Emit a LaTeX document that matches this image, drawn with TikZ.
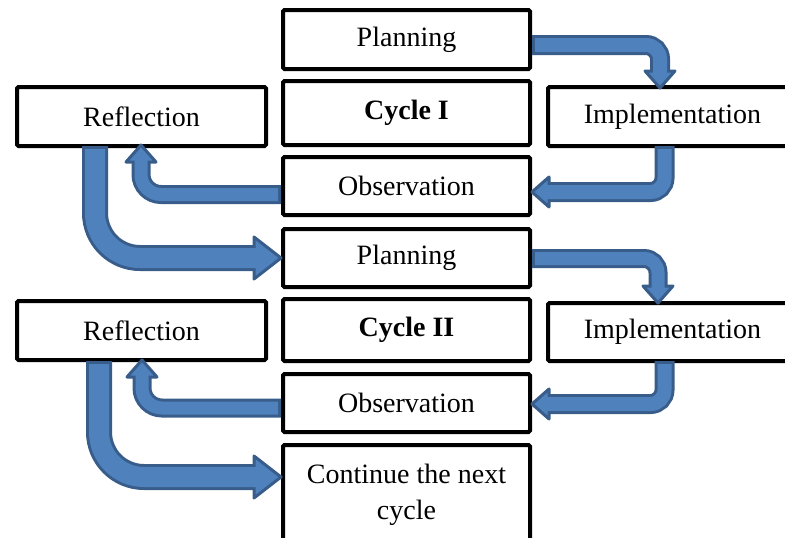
\documentclass[tikz,border=0pt]{standalone}
\usepackage{fontspec}
\setmainfont{Liberation Serif}
\usetikzlibrary{calc}
\definecolor{arrblue}{HTML}{4F81BD}
\definecolor{arrdark}{HTML}{385D8A}
\tikzset{
  box/.style={draw=black, line width=4pt, fill=white, rounded corners=1.5pt,
    inner sep=0pt, font=\fontsize{28}{33}\selectfont, align=center},
  smallhead/.pic={\filldraw[fill=arrblue, draw=arrdark, line width=3pt, line join=round]
    (0,0) -- (-17,15) -- (-17,-15) -- cycle;},
  bighead/.pic={\filldraw[fill=arrblue, draw=arrdark, line width=3pt, line join=round]
    (0,0) -- (-27,21) -- (-27,-21) -- cycle;},
}
% #1 inner width, #2 corner radius, #3 path, #4 rotation, #5 tip, #6 head pic
\newcommand\fatarrow[6]{%
  \draw[arrdark, line width=#1+6pt, rounded corners=#2] #3;
  \pic[rotate=#4] at #5 {#6};
  \draw[arrblue, line width=#1, rounded corners=#2, shorten <=3pt] #3;
}
\begin{document}
\begin{tikzpicture}[x=1pt,y=-1pt]
\useasboundingbox (0,0) rectangle (785,538);
% boxes
\node[box, minimum width=247pt, minimum height=59pt] (p1) at (406.5,39.5) {Planning};
\node[box, minimum width=247pt, minimum height=64pt] (c1) at (406.5,113) {\bfseries Cycle I};
\node[box, minimum width=247pt, minimum height=58pt] (o1) at (406.5,186) {Observation};
\node[box, minimum width=249pt, minimum height=59pt] (r1) at (141.5,116.5) {Reflection};
\node[box, minimum width=249pt, minimum height=59pt] (i1) at (672.5,116.5) {Implementation};
\node[box, minimum width=247pt, minimum height=58pt] (p2) at (406.5,258) {Planning};
\node[box, minimum width=247pt, minimum height=62pt] (c2) at (406.5,330) {\bfseries Cycle II};
\node[box, minimum width=249pt, minimum height=59pt] (r2) at (141.5,330.5) {Reflection};
\node[box, minimum width=249pt, minimum height=58pt] (i2) at (672.5,332) {Implementation};
\node[box, minimum width=247pt, minimum height=58pt] (o2) at (406.5,403) {Observation};
\node[box, minimum width=247pt, minimum height=100pt, font=\fontsize{28}{36}\selectfont] (n) at (406.5,495)
  {Continue the next\\cycle};
% arrow end points
\coordinate (s1) at ($(p1.east)+(0,5.5)$);
\coordinate (t1) at ($(i1.north west)+(114,3)$);
\coordinate (s2) at ($(i1.south west)+(118.5,-2)$);
\coordinate (t2) at ($(o1.east)+(0,6)$);
\coordinate (s3) at ($(o1.west)+(0,8.5)$);
\coordinate (t3) at ($(r1.south)+(-0.5,-3)$);
\coordinate (s4) at ($(r1.south)+(-46.5,-2)$);
\coordinate (t4) at (p2.west);
\coordinate (s5) at ($(p2.east)+(0,0.5)$);
\coordinate (t5) at ($(i2.north west)+(112,2)$);
\coordinate (s6) at ($(i2.south west)+(118.5,-2)$);
\coordinate (t6) at ($(o2.east)+(0,1)$);
\coordinate (s7) at ($(o2.west)+(0,5)$);
\coordinate (t7) at ($(r2.south)+(0.5,-2)$);
\coordinate (s8) at ($(r2.south)+(-42.5,-1)$);
\coordinate (t8) at ($(n.west)+(0,-18)$);
% arrows
\fatarrow{14pt}{14pt}{(s1) -- (s1 -| t1) -- ($(t1)+(0,-15)$)}{-90}{(t1)}{smallhead}
\fatarrow{14pt}{14pt}{(s2) -- (s2 |- t2) -- ($(t2)+(15,0)$)}{180}{(t2)}{smallhead}
\fatarrow{13pt}{20pt}{(s3) -- (s3 -| t3) -- ($(t3)+(0,15)$)}{90}{(t3)}{smallhead}
\fatarrow{20pt}{45pt}{(s4) -- (s4 |- t4) -- ($(t4)+(-25,0)$)}{0}{(t4)}{bighead}
\fatarrow{13pt}{14pt}{(s5) -- (s5 -| t5) -- ($(t5)+(0,-15)$)}{-90}{(t5)}{smallhead}
\fatarrow{14pt}{14pt}{(s6) -- (s6 |- t6) -- ($(t6)+(15,0)$)}{180}{(t6)}{smallhead}
\fatarrow{13pt}{20pt}{(s7) -- (s7 -| t7) -- ($(t7)+(0,15)$)}{90}{(t7)}{smallhead}
\fatarrow{20pt}{45pt}{(s8) -- (s8 |- t8) -- ($(t8)+(-25,0)$)}{0}{(t8)}{bighead}
\end{tikzpicture}
\end{document}
